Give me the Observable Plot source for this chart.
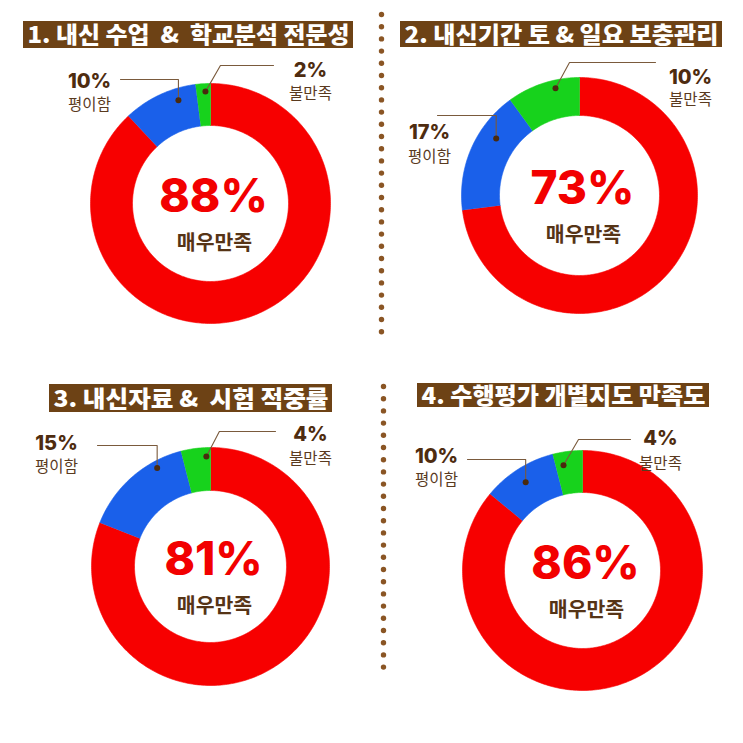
<!DOCTYPE html>
<html><head><meta charset="utf-8">
<script src="https://cdn.jsdelivr.net/npm/d3@7"></script>
<script src="https://cdn.jsdelivr.net/npm/@observablehq/plot@0.6"></script>
<style>html,body{margin:0;padding:0;background:#fff;} #chart{width:743px;height:743px;}</style>
</head><body><div id="chart"></div>
<script>
// ---- data ----
const titles = ["1. 내신 수업  &  학교분석 전문성", "2. 내신기간 토 & 일요 보충관리", "3. 내신자료 &  시험 적중률", "4. 수행평가 개별지도 만족도"];
const categories = ["매우만족", "평이함", "불만족"];
const verySatisfied = [88, 73, 81, 86];
const neutral = [10, 17, 15, 10];
const dissatisfied = [2, 10, 4, 4];

// ---- styles ----
const sliceColors = ["#f70000", "#1a60ea", "#17d21c"];
const brown = "#6d4215";
const textBrown = "#4e2c10";
const subBrown = "#5a3a1e";
const lineBrown = "#7a5a3c";

// ---- layout (pixel space) ----
const layout = [
  {cx: 210, cy: 203, R: 120, r: 78, bar: [23, 353, 21, 48],
   n: {frac: 0.72, rad: 108, lx: 89, ly: 87, sy: 109, sx: 120, y: 79, elbow: 0},
   d: {frac: 0.64, rad: 112, lx: 310, ly: 76, sy: 98, sx: 273, y: 65, elbow: 15}},
  {cx: 579, cy: 195, R: 118, r: 80, bar: [400, 722, 21, 47],
   n: {frac: 0.68, rad: 101, lx: 429, ly: 138, sy: 161, sx: 437, y: 115, elbow: 0},
   d: {frac: 0.65, rad: 110, lx: 690, ly: 83, sy: 104, sx: 655, y: 62, elbow: 14}},
  {cx: 210, cy: 566, R: 119, r: 76, bar: [49, 332, 384, 412],
   n: {frac: 0.74, rad: 112, lx: 56, ly: 449, sy: 471, sx: 97, y: 445, elbow: 0},
   d: {frac: 0.85, rad: 110, lx: 310, ly: 440, sy: 463, sx: 275, y: 431, elbow: 13}},
  {cx: 582, cy: 570, R: 120, r: 78, bar: [417, 709, 383, 407],
   n: {frac: 0.49, rad: 105, lx: 436, ly: 462, sy: 484, sx: 467, y: 459, elbow: 0},
   d: {frac: 0.29, rad: 107, lx: 660, ly: 444, sy: 468, sx: 630, y: 439, elbow: 15}}
];

const rad = Math.PI / 180;
const polar = (L, rr, a) => ({x: L.cx + rr * Math.sin(a * rad), y: L.cy - rr * Math.cos(a * rad)});

const slices = [], leaders = [], leaderDots = [], texts = [], bars = [], titleRows = [];
titles.forEach((t, i) => {
  const L = layout[i];
  const vals = [verySatisfied[i], neutral[i], dissatisfied[i]];
  const spans = [];
  let acc = 0;
  vals.forEach((v, k) => {
    const a0 = acc / 100 * 360, a1 = (acc + v) / 100 * 360;
    acc += v;
    spans.push([a0, a1]);
    const n = Math.max(2, Math.ceil(a1 - a0));
    const id = i + "-" + k;
    for (let j = 0; j <= n; j++) slices.push({id, color: sliceColors[k], ...polar(L, L.R, a0 + (a1 - a0) * j / n)});
    for (let j = n; j >= 0; j--) slices.push({id, color: sliceColors[k], ...polar(L, L.r, a0 + (a1 - a0) * j / n)});
  });
  // leaders for neutral (k=1) and dissatisfied (k=2)
  [["n", 1], ["d", 2]].forEach(([key, k]) => {
    const o = L[key];
    const [a0, a1] = spans[k];
    const p = polar(L, o.rad, a0 + (a1 - a0) * o.frac);
    const id = i + key;
    leaders.push({id, x: o.sx, y: o.y}, {id, x: p.x + o.elbow, y: o.y}, {id, x: p.x, y: p.y});
    leaderDots.push(p);
    texts.push({x: o.lx, y: o.ly, text: vals[k] + "%", kind: "pct"});
    texts.push({x: o.lx, y: o.sy, text: categories[k], kind: "sub"});
  });
  texts.push({x: L.cx + 3, y: L.cy + 8, text: vals[0] + "%", kind: "big"});
  texts.push({x: L.cx + 4, y: L.cy + 46, text: categories[0], kind: "main"});
  bars.push({x1: L.bar[0], x2: L.bar[1], y1: L.bar[2], y2: L.bar[3]});
  titleRows.push({x: (L.bar[0] + L.bar[1]) / 2, y: (L.bar[2] + L.bar[3]) / 2 + 1, text: t, w: L.bar[1] - L.bar[0] - 8});
});

const sepUpper = d3.range(27).map(j => ({x: 381, y: 14 + j * 12.2}));
const sepLower = d3.range(24).map(j => ({x: 383, y: 386 + j * 12.2}));

const textMark = (kind, opts) => Plot.text(texts.filter(d => d.kind === kind), {x: "x", y: "y", text: "text", textAnchor: "middle", lineAnchor: "bottom", ...opts});

const plot = Plot.plot({
  width: 743, height: 743, margin: 0,
  x: {domain: [0, 743], range: [0, 743], axis: null},
  y: {domain: [0, 743], range: [0, 743], axis: null},
  color: {type: "identity"},
  style: {background: "#fff", overflow: "visible"},
  marks: [
    Plot.dot([...sepUpper, ...sepLower], {x: "x", y: "y", r: 2.7, fill: "#8a5524"}),
    Plot.rect(bars, {x1: "x1", x2: "x2", y1: "y1", y2: "y2", fill: brown}),
    Plot.text(titleRows, {x: "x", y: "y", text: "text", fill: "#fff", fontSize: 23, fontWeight: 900, fontFamily: "'Noto Sans CJK KR', sans-serif", lineAnchor: "middle", textAnchor: "middle"}),
    Plot.line(slices, {x: "x", y: "y", z: "id", fill: "color", stroke: "color", strokeWidth: 0.6, curve: "linear"}),
    Plot.line(leaders, {x: "x", y: "y", z: "id", stroke: lineBrown, strokeWidth: 1.1}),
    Plot.dot(leaderDots, {x: "x", y: "y", r: 3, fill: "#4a2a0e"}),
    textMark("big", {fill: "#f20000", fontSize: 46, fontWeight: 800, fontFamily: "Inter, sans-serif"}),
    textMark("main", {fill: "#563416", fontSize: 20.5, fontWeight: 700, fontFamily: "'Noto Sans CJK KR', sans-serif"}),
    textMark("pct", {fill: textBrown, fontSize: 20, fontWeight: 800, fontFamily: "Inter, sans-serif"}),
    textMark("sub", {fill: subBrown, fontSize: 15.5, fontWeight: 400, fontFamily: "'Noto Sans CJK KR', sans-serif"})
  ]
});
// fit title text to bars
d3.select(plot).selectAll("text").each(function() {
  const row = titleRows.find(r => r.text === this.textContent);
  if (row) {
    this.setAttribute("textLength", row.w);
    this.setAttribute("lengthAdjust", "spacingAndGlyphs");
    this.style.whiteSpace = "pre";
  }
});
document.getElementById("chart").append(plot);
</script></body></html>
